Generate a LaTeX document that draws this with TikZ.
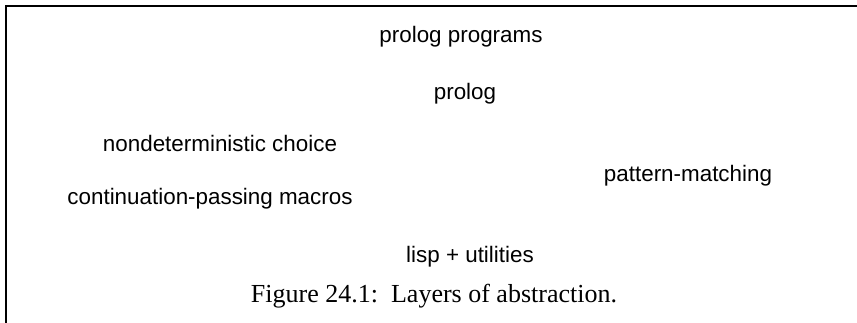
\documentclass[tikz,border=0pt]{standalone}
\usepackage{fontspec}
\setmainfont{Liberation Serif}
\setsansfont{Liberation Sans}

\begin{document}
\begin{tikzpicture}[x=1pt, y=-1pt]

    %styles
    \tikzstyle{layer}=[inner sep=0pt, anchor=base, font=\sffamily\fontsize{22.4}{27}\selectfont]
    \tikzstyle{caption}=[inner sep=0pt, anchor=base, font=\rmfamily\fontsize{26}{31}\selectfont]
    \tikzstyle{frame}=[black, line width=2.2pt]

    \useasboundingbox (0,0) rectangle (857,323);

    % frame
    \coordinate (tl) at (6,6);
    \coordinate (tr) at (857,6);
    \coordinate (bl) at (6,323);
    \draw[frame] (tr) -- (tl) -- (bl);

    % nodes
    \node[layer] (progs) at (461,43) {prolog programs};
    \node[layer] (prolog) at (465,100) {prolog};
    \node[layer] (nondet) at (220,152) {nondeterministic choice};
    \node[layer] (match) at (688,182) {pattern-matching};
    \node[layer] (cps) at (210,205) {continuation-passing macros};
    \node[layer] (lisp) at (470,262) {lisp + utilities};
    \node[caption] (cap) at (434,302) {Figure 24.1:\ \ Layers of abstraction.};
\end{tikzpicture}
\end{document}
